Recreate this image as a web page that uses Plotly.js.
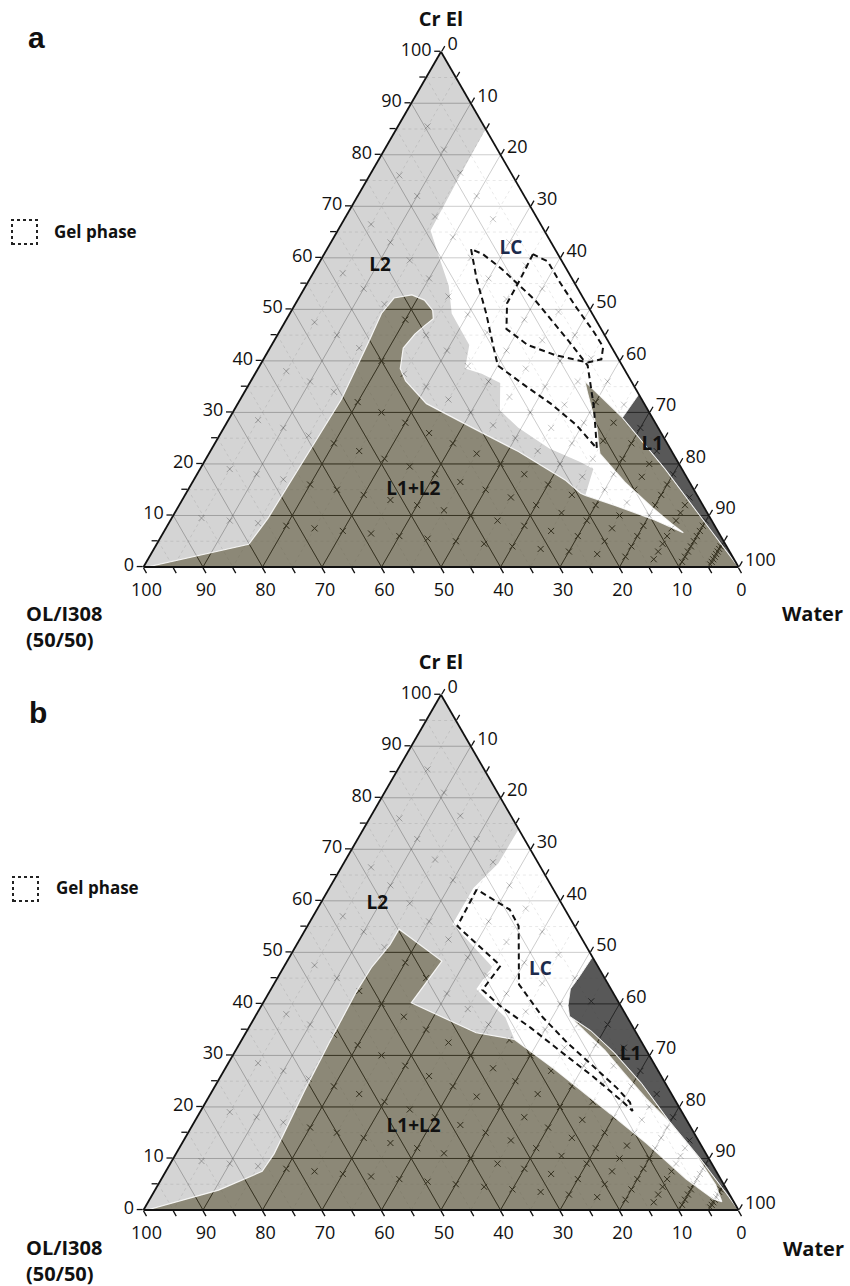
<!DOCTYPE html>
<html>
<head>
<meta charset="utf-8">
<script src="https://cdn.plot.ly/plotly-3.0.1.min.js"></script>
<style>
html,body{margin:0;padding:0;background:#fff;}
#chart{width:850px;height:1286px;}
</style>
</head>
<body>
<div id="chart"></div>
<script>
// ================= DATA =================
// Axis ticks
const tickVals = [0,5,10,15,20,25,30,35,40,45,50,55,60,65,70,75,80,85,90,95,100];
const tickText = ['0','','10','','20','','30','','40','','50','','60','','70','','80','','90','','100'];
const gridMajor = [10,20,30,40,50,60,70,80,90];
const gridMinor = [5,15,25,35,45,55,65,75,85,95];

// Sample compositions (x marks): Cr El share of the Cr El + OL/I308 mixture, diluted by water
const dilutionCrEl = [10,20,30,40,50,60,70,80,90];
const waterSteps = [5,10,15,20,25,30,35,40,45,50,55,60,65,70,75,80,85,90,95];

// Whole diagram (corners): Cr El (a) and Water (c) values
const triangleA = [100, 0, 0];
const triangleC = [0, 0, 100];

// ---------- Panel a ----------
// L1+L2 (olive) region, incl. the strip beside L1
const aL1L2A = [0, 4.4, 9.5, 21.0, 32.5, 43.8, 49.2, 52.2, 52.8, 51.8, 49.8, 48.2, 46.8, 45.2, 42.5, 38.5, 36.1, 31.7, 27.0, 22.4, 16.9, 14.3, 13.9, 11.9, 9.3, 6.65, 8.5, 11.5, 16.5, 22.0, 23.6, 27.0, 30.4, 33.7, 36.1, 29.0, 19.0, 10.0, 0];
const aL1L2C = [0.6, 15.5, 16.2, 16.6, 17.0, 16.0, 15.4, 16.0, 18.7, 21.3, 23.7, 24.6, 23.8, 23.0, 22.4, 23.9, 26.0, 31.7, 41.8, 51.8, 62.4, 66.3, 67.3, 73.4, 80.9, 87.4, 84.4, 79.8, 72.6, 65.7, 64.7, 62.7, 60.2, 57.8, 56.1, 66.0, 78.2, 88.5, 100];
// L1 region
const aL1A = [33.5, 29.0, 19.0, 10.0, 0];
const aL1C = [66.5, 66.0, 78.2, 88.5, 100];
// LC (white) region
const aLCA = [85, 33.5, 29.0, 36.1, 33.7, 30.4, 27.0, 23.6, 22.0, 16.5, 11.5, 8.5, 6.65, 9.3, 11.9, 13.9, 19.0, 20.4, 23.0, 27.0, 30.4, 35.7, 37.5, 38.5, 43.1, 49.2, 54.6, 59.9, 65.3, 76.0];
const aLCC = [15, 66.5, 66.0, 56.1, 57.8, 60.2, 62.7, 64.7, 65.7, 72.6, 79.8, 84.4, 87.4, 80.9, 73.4, 67.3, 66.1, 63.2, 56.7, 49.5, 44.7, 42.1, 38.1, 34.8, 33.2, 27.2, 24.0, 19.8, 15.6, 15.2];
// Gel phase outlines
const aGel1A = [61.7, 55.8, 49.2, 42.5, 39.1, 35.1, 31.7, 27.6, 23.0, 31.0, 39.1, 43.8, 51.8, 57.9, 60.7];
const aGel1C = [24.2, 28.1, 33.0, 37.6, 40.0, 46.7, 52.6, 58.9, 64.7, 60.2, 55.1, 49.6, 39.9, 31.2, 26.7];
const aGel2A = [60.7, 55.8, 51.2, 46.2, 43.1, 41.1, 39.7, 40.3, 42.7, 45.6, 50.6, 55.2, 59.3];
const aGel2C = [35.1, 35.4, 35.5, 37.9, 43.0, 48.7, 54.8, 56.8, 55.9, 52.9, 47.3, 42.4, 38.3];
// Region labels
const aLabelText = ['L2', 'LC', 'L1', 'L1+L2'];
const aLabelA = [58.3, 61.7, 23.6, 14.9];
const aLabelC = [10.6, 30.9, 73.7, 37.9];

// ---------- Panel b ----------
const bL1L2A = [0, 3.85, 7.5, 10.9, 23.1, 32.3, 42.3, 47.2, 51.5, 54.5, 48.3, 40.2, 34.4, 33.1, 27.4, 18.8, 13.0, 6.0, 2.1, 1.6, 4.9, 10.9, 16.7, 21.6, 26.7, 31.0, 34.4, 37.6, 34.8, 30.6, 24.6, 17.3, 10.3, 3.2, 0];
const bL1L2C = [0.6, 10.7, 16.2, 16.5, 15.5, 15.0, 14.6, 14.8, 15.7, 15.7, 26.0, 24.9, 38.7, 45.8, 55.3, 68.9, 78.0, 88.2, 94.8, 96.4, 93.7, 87.3, 80.3, 73.7, 67.3, 62.0, 57.2, 52.8, 57.8, 63.8, 71.4, 79.7, 88.2, 96.4, 100];
const bL1A = [49.1, 45.1, 42.9, 39.7, 37.6, 34.8, 30.6, 24.6, 17.3, 10.3, 3.2, 0];
const bL1C = [50.9, 50.6, 50.3, 51.5, 52.8, 57.8, 63.8, 71.4, 79.7, 88.2, 96.4, 100];
const bLCA = [73.9, 49.1, 45.1, 42.9, 39.7, 37.6, 34.4, 31.0, 26.7, 21.6, 16.7, 10.9, 4.9, 1.6, 2.1, 6.0, 13.0, 18.8, 27.4, 33.1, 37.4, 40.8, 42.9, 47.2, 55.5, 62.5, 67.3];
const bLCC = [26.1, 50.9, 50.6, 50.3, 51.5, 52.8, 57.2, 62.0, 67.3, 73.7, 80.3, 87.3, 93.7, 96.4, 94.8, 88.2, 78.0, 68.9, 55.3, 45.8, 42.1, 37.3, 34.5, 35.0, 24.2, 24.2, 26.0];
const bGel1A = [62.2, 55.1, 47.4, 42.7, 39.5, 35.3, 30.1, 25.9, 20.9, 19.2, 20.9, 23.7, 28.0, 32.3, 37.4, 43.8, 55.1, 58.3];
const bGel1C = [24.9, 25.2, 36.3, 35.6, 40.3, 47.5, 55.8, 62.6, 70.2, 72.6, 71.3, 67.7, 61.5, 55.2, 48.4, 41.2, 35.5, 32.4];
const bLabelText = ['L2', 'LC', 'L1', 'L1+L2'];
const bLabelA = [59.4, 46.6, 30.1, 16.0];
const bLabelC = [9.6, 43.4, 66.8, 37.4];

// ================= HELPERS =================
const FONT = '"Open Sans", "Liberation Sans", Arial, sans-serif';

function ringArea(a, c) {
  let s = 0;
  for (let i = 0; i < a.length; i++) {
    const j = (i + 1) % a.length;
    const x1 = c[i] + a[i] / 2, y1 = a[i], x2 = c[j] + a[j] / 2, y2 = a[j];
    s += x1 * y2 - x2 * y1;
  }
  return s / 2;
}
function ring(aArr, cArr, sign) {
  let a = aArr.slice(), c = cArr.slice();
  if (sign && Math.sign(ringArea(a, c)) !== sign) { a.reverse(); c.reverse(); }
  a.push(a[0]); c.push(c[0]);
  return {a: a, c: c};
}
function joinRings(rings) {
  const out = {a: [], c: []};
  rings.forEach((r, i) => {
    if (i > 0) { out.a.push(null); out.c.push(null); }
    out.a.push(...r.a); out.c.push(...r.c);
  });
  return out;
}
function gridLines(vals) {
  const a = [], c = [];
  vals.forEach(v => {
    a.push(v, v, null);         c.push(0, 100 - v, null);   // constant Cr El
    a.push(100 - v, 0, null);   c.push(0, 100 - v, null);   // constant OL/I308
    a.push(100 - v, 0, null);   c.push(v, v, null);         // constant Water
  });
  return {a: a, c: c};
}
function samplePoints() {
  const a = [], c = [];
  dilutionCrEl.forEach(r => waterSteps.forEach(w => { a.push(r * (100 - w) / 100); c.push(w); }));
  return {a: a, c: c};
}

function panelTraces(sub, p) {
  const base = {type: 'scatterternary', subplot: sub, hoverinfo: 'skip', showlegend: false};
  const major = gridLines(gridMajor);
  const minor = gridLines(gridMinor);
  const pts = samplePoints();
  const gray = joinRings([ring(triangleA, triangleC, 1), ring(p.olA, p.olC, -1), ring(p.l1A, p.l1C, -1)]);
  const white = ring(p.lcA, p.lcC, 0);
  const olive = ring(p.olA, p.olC, 0);
  const l1 = ring(p.l1A, p.l1C, 0);
  const traces = [
    Object.assign({}, base, {mode: 'lines', a: major.a, c: major.c, line: {color: '#000', width: 1}}),
    Object.assign({}, base, {mode: 'markers', a: pts.a, c: pts.c,
      marker: {symbol: 'x-thin-open', size: 6, color: '#000', line: {width: 1, color: '#000'}}}),
    Object.assign({}, base, {mode: 'none', a: gray.a, c: gray.c, fill: 'toself', fillcolor: 'rgba(210,210,210,0.953)'}),
    Object.assign({}, base, {mode: 'none', a: white.a, c: white.c, fill: 'toself', fillcolor: '#ffffff'}),
    Object.assign({}, base, {mode: 'lines', a: minor.a, c: minor.c, line: {color: 'rgba(0,0,0,0.09)', width: 1, dash: 'dot'}}),
    Object.assign({}, base, {mode: 'lines', a: major.a, c: major.c, line: {color: 'rgba(0,0,0,0.2)', width: 1}}),
    Object.assign({}, base, {mode: 'markers', a: pts.a, c: pts.c,
      marker: {symbol: 'x-thin-open', size: 6, color: 'rgba(0,0,0,0.22)', line: {width: 1, color: 'rgba(0,0,0,0.22)'}}}),
    Object.assign({}, base, {mode: 'lines', a: olive.a, c: olive.c, fill: 'toself', fillcolor: 'rgba(83,77,51,0.667)',
      line: {color: 'rgba(255,255,255,0.85)', width: 1.2}}),
    Object.assign({}, base, {mode: 'lines', a: l1.a, c: l1.c, fill: 'toself', fillcolor: 'rgba(49,49,49,0.812)',
      line: {color: 'rgba(255,255,255,0.8)', width: 1}})
  ];
  p.gels.forEach(g => {
    const r = ring(g[0], g[1], 0);
    traces.push(Object.assign({}, base, {mode: 'lines', a: r.a, c: r.c,
      line: {color: '#111', width: 2, dash: '6px,4px'}}));
  });
  traces.push(Object.assign({}, base, {mode: 'text', a: p.labA, c: p.labC, text: p.labT,
    textposition: 'middle center',
    textfont: {family: FONT, size: 19, weight: 'bold', color: p.labT.map(t => t === 'LC' ? '#1d2b4c' : '#111')}}));
  return traces;
}

const data = [].concat(
  panelTraces('ternary', {olA: aL1L2A, olC: aL1L2C, l1A: aL1A, l1C: aL1C, lcA: aLCA, lcC: aLCC,
    gels: [[aGel1A, aGel1C], [aGel2A, aGel2C]], labT: aLabelText, labA: aLabelA, labC: aLabelC}),
  panelTraces('ternary2', {olA: bL1L2A, olC: bL1L2C, l1A: bL1A, l1C: bL1C, lcA: bLCA, lcC: bLCC,
    gels: [[bGel1A, bGel1C]], labT: bLabelText, labA: bLabelA, labC: bLabelC})
);

function axis(title) {
  return {
    title: {text: title, font: {family: FONT, size: 20, color: '#111'}},
    tickmode: 'array', tickvals: tickVals, ticktext: tickText,
    ticks: 'outside', ticklen: 6, tickwidth: 1.3, tickcolor: '#111',
    tickfont: {family: FONT, size: 18, color: '#111'},
    showgrid: false, showline: true, linecolor: '#111', linewidth: 1.8,
    layer: 'above traces'
  };
}
function ternaryLayout(dom) {
  return {
    domain: dom, sum: 100, bgcolor: '#ffffff',
    aaxis: axis('<b>Cr El</b>'), baxis: axis(''), caxis: axis('')
  };
}

const titleFont = {family: FONT, size: 20, color: '#111', weight: 'bold'};
const annotations = [
  {text: '<b>a</b>', x: 0.0424, y: 0.9705, font: {family: '"Liberation Sans", Arial, sans-serif', size: 30, color: '#111'}},
  {text: '<b>b</b>', x: 0.0447, y: 0.4463, font: {family: '"Liberation Sans", Arial, sans-serif', size: 30, color: '#111'}},
  {text: '<b>Gel phase</b>', x: 0.0612, y: 0.8196, xanchor: 'left', font: {family: FONT, size: 17, color: '#111'}},
  {text: '<b>Gel phase</b>', x: 0.0635, y: 0.3095, xanchor: 'left', font: {family: FONT, size: 17, color: '#111'}},
  {text: '<b>OL/I308<br>(50/50)</b>', x: 0.0282, y: 0.5132, xanchor: 'left', align: 'left', font: titleFont},
  {text: '<b>OL/I308<br>(50/50)</b>', x: 0.0282, y: 0.0202, xanchor: 'left', align: 'left', font: titleFont},
  {text: '<b>Water</b>', x: 0.9553, y: 0.5233, font: titleFont},
  {text: '<b>Water</b>', x: 0.9576, y: 0.0288, font: titleFont}
].map(a => Object.assign({xref: 'paper', yref: 'paper', showarrow: false, xanchor: 'center', yanchor: 'middle'}, a));

const shapes = [
  {type: 'rect', xref: 'paper', yref: 'paper', x0: 0.01412, x1: 0.04353, y0: 0.81026, y1: 0.82893,
   line: {color: '#222', width: 2, dash: 'dot'}},
  {type: 'rect', xref: 'paper', yref: 'paper', x0: 0.01529, x1: 0.04471, y0: 0.29938, y1: 0.31804,
   line: {color: '#222', width: 2, dash: 'dot'}}
];

const layout = {
  width: 850, height: 1286,
  margin: {l: 0, r: 0, t: 0, b: 0},
  paper_bgcolor: '#ffffff',
  showlegend: false,
  hovermode: false,
  ternary: ternaryLayout({x: [0.168824, 0.868824], y: [0.559098, 0.959790]}),
  ternary2: ternaryLayout({x: [0.168824, 0.868824], y: [0.059098, 0.459790]}),
  annotations: annotations,
  shapes: shapes
};

Plotly.newPlot('chart', data, layout, {staticPlot: true, displayModeBar: false});
</script>
</body>
</html>
